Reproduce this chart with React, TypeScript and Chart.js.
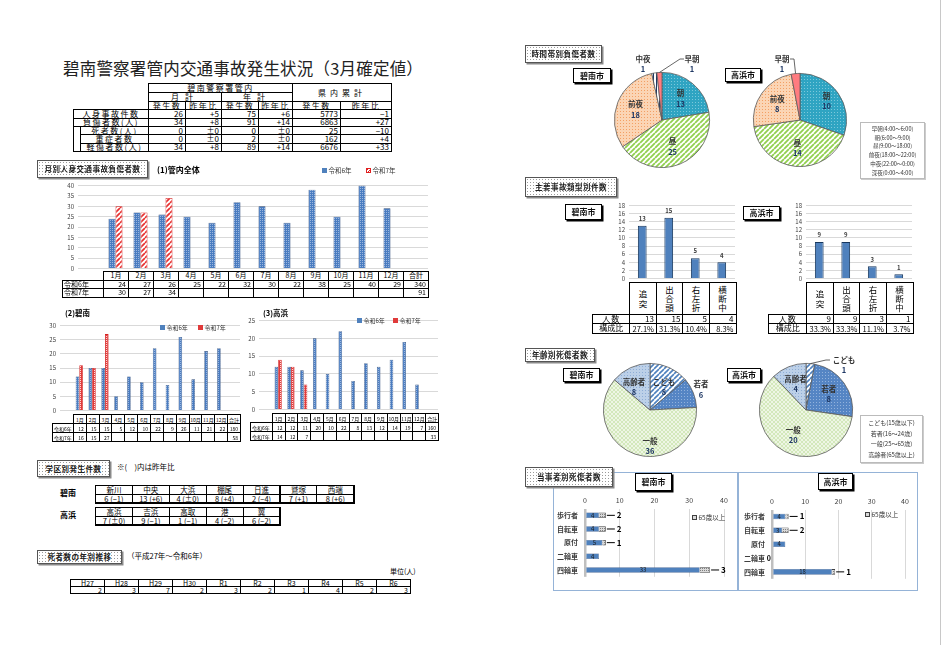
import React, { useEffect, useRef } from "react";
import { Chart, registerables } from "chart.js";

Chart.register(...registerables);

const FONT = "'Noto Sans CJK JP', 'Noto Sans', sans-serif";
Chart.defaults.font.family = FONT;
Chart.defaults.color = "#404040";

// ---------------- data ----------------
const titleText = "碧南警察署管内交通事故発生状況（3月確定値）";

const summaryLabels = ["人身事故件数", "負傷者数(人)", "死者数(人)", "重症者数", "軽傷者数(人)"];
const summaryMonthCount = [26, 34, 0, 0, 34];
const summaryMonthDiff = ["+5", "+8", "±0", "±0", "+8"];
const summaryYearCount = [75, 91, 0, 2, 89];
const summaryYearDiff = ["+6", "+14", "±0", "±0", "+14"];
const summaryPrefCount = [5773, 6863, 25, 162, 6676];
const summaryPrefDiff = ["−1", "+27", "−10", "+4", "+33"];

const monthLabels = ["1月", "2月", "3月", "4月", "5月", "6月", "7月", "8月", "9月", "10月", "11月", "12月"];
const totalLabel = "合計";
const seriesNames = ["令和6年", "令和7年"];

const allR6 = [24, 27, 26, 25, 22, 32, 30, 22, 38, 25, 40, 29];
const allR7 = [30, 27, 34];
const allTotals = [340, 91];

const hekinanR6 = [12, 15, 15, 5, 12, 10, 22, 9, 26, 11, 21, 22];
const hekinanR7 = [16, 15, 27];
const hekinanTotals = [180, 58];

const takahamaR6 = [12, 12, 11, 20, 10, 22, 8, 13, 12, 14, 19, 7];
const takahamaR7 = [14, 12, 7];
const takahamaTotals = [160, 33];

const hekinanDistricts = ["新川", "中央", "大浜", "棚尾", "日進", "鷲塚", "西端"];
const hekinanDistrictCounts = ["6 (−1)", "13 (+6)", "4 (±0)", "8 (+4)", "2 (−4)", "7 (+1)", "8 (+6)"];
const takahamaDistricts = ["高浜", "吉浜", "高取", "港", "翼"];
const takahamaDistrictCounts = ["7 (±0)", "9 (−1)", "1 (−1)", "4 (−2)", "6 (−2)"];

const deathYears = ["H27", "H28", "H29", "H30", "R1", "R2", "R3", "R4", "R5", "R6"];
const deathCounts = [2, 3, 7, 2, 3, 2, 1, 4, 2, 3];

const timeLabels = ["朝", "昼", "前夜", "中夜", "深夜", "早朝"];
const timeHekinan = [13, 25, 18, 1, 0, 1];
const timeTakahama = [10, 14, 8, 0, 0, 1];
const timeLegend = ["早朝(4:00～6:00)", "朝(6:00～9:00)", "昼(9:00～18:00)", "前夜(18:00～22:00)", "中夜(22:00～0:00)", "深夜(0:00～4:00)"];

const typeLabels = ["追突", "出合頭", "右左折", "横断中"];
const typeHekinan = [13, 15, 5, 4];
const typeHekinanShare = ["27.1%", "31.3%", "10.4%", "8.3%"];
const typeTakahama = [9, 9, 3, 1];
const typeTakahamaShare = ["33.3%", "33.3%", "11.1%", "3.7%"];

const ageLabels = ["こども", "若者", "一般", "高齢者"];
const ageHekinan = [8, 6, 36, 8];
const ageTakahama = [1, 8, 20, 4];
const ageLegend = ["こども(15歳以下)", "若者(16～24歳)", "一般(25～65歳)", "高齢者(65歳以上)"];

const partyLabels = ["歩行者", "自転車", "原付", "二輪車", "四輪車"];
const partySeries = ["65歳未満", "65歳以上"];
const partyHekinanUnder = [4, 4, 5, 4, 33];
const partyHekinanOver = [2, 2, 1, 0, 3];
const partyTakahamaUnder = [4, 3, 4, 0, 18];
const partyTakahamaOver = [1, 2, 0, 0, 1];

// ---------------- patterns ----------------
function patternOf(size: number, bg: string, draw: (g: any, s: number) => void) {
  const c = document.createElement("canvas");
  c.width = size;
  c.height = size;
  const g: any = c.getContext("2d");
  g.fillStyle = bg;
  g.fillRect(0, 0, size, size);
  draw(g, size);
  return g.createPattern(c, "repeat");
}
const dotsP = (bg: string, fg: string, size = 3) =>
  patternOf(size, bg, (g) => {
    g.fillStyle = fg;
    g.fillRect(0, 0, 1, 1);
  });
const diagP = (bg: string, fg: string, size = 5, lw = 1.4) =>
  patternOf(size, bg, (g, s) => {
    g.strokeStyle = fg;
    g.lineWidth = lw;
    g.beginPath();
    for (const o of [-s, 0, s]) {
      g.moveTo(o, s);
      g.lineTo(o + s, 0);
    }
    g.stroke();
  });
const vertP = (bg: string, fg: string, size = 3) =>
  patternOf(size, bg, (g, s) => {
    g.fillStyle = fg;
    g.fillRect(0, 0, 1, s);
  });
const checkP = (bg: string, fg: string, size = 4) =>
  patternOf(size, bg, (g, s) => {
    g.fillStyle = fg;
    g.fillRect(0, 0, s / 2, s / 2);
    g.fillRect(s / 2, s / 2, s / 2, s / 2);
  });

// ---------------- chart helpers ----------------
function baseOpts(padding: any, scales: any, pluginOpts: any = {}, extra: any = {}) {
  return {
    animation: false,
    responsive: false,
    events: [],
    layout: { padding },
    plugins: { legend: { display: false }, tooltip: { enabled: false }, ...pluginOpts },
    scales,
    ...extra,
  };
}
function yScale(max: number, step: number, w: number) {
  return {
    min: 0,
    max,
    ticks: { stepSize: step, autoSkip: false, font: { size: 6 }, padding: 4, color: "#404040" },
    grid: { color: "#d9d9d9", drawTicks: false },
    border: { display: false },
    afterFit: (s: any) => {
      s.width = w;
    },
  };
}

function monthConfig(r6: number[], r7: number[], max: number, yW: number, pad: any, cp: number, big: boolean) {
  return {
    type: "bar",
    data: {
      labels: ["", ...monthLabels, totalLabel],
      datasets: [
        {
          label: seriesNames[0],
          data: [null, ...r6, null],
          backgroundColor: dotsP("#4a7cc0", "#9ab6df", 2),
          borderColor: "#2c4a78",
          borderWidth: 0.6,
          categoryPercentage: cp,
          barPercentage: 1,
        },
        {
          label: seriesNames[1],
          data: [null, ...r7],
          backgroundColor: big ? diagP("#ffffff", "#e83030", 5, 1.7) : dotsP("#e03a3a", "#ffd6d6", 2),
          borderColor: "#d42020",
          borderWidth: 0.8,
          categoryPercentage: cp,
          barPercentage: 1,
        },
      ],
    },
    options: baseOpts(pad, { x: { display: false }, y: yScale(max, 5, yW) }),
  };
}

const barTopPlugin = {
  id: "barTop",
  afterDatasetsDraw(chart: any) {
    const ctx = chart.ctx;
    const meta = chart.getDatasetMeta(0);
    const d = chart.data.datasets[0].data;
    ctx.save();
    ctx.font = `bold 6px ${FONT}`;
    ctx.fillStyle = "#404040";
    ctx.textAlign = "center";
    ctx.textBaseline = "bottom";
    meta.data.forEach((el: any, i: number) => {
      const p = el.getProps(["x", "y"], true);
      ctx.fillText(String(d[i]), p.x, p.y - 4);
    });
    ctx.restore();
  },
};

function typeConfig(values: number[]) {
  return {
    type: "bar",
    data: {
      labels: typeLabels,
      datasets: [
        {
          data: values,
          backgroundColor: "#4f81bd",
          borderColor: "#17375e",
          borderWidth: 1,
          barPercentage: 0.33,
          categoryPercentage: 1,
        },
      ],
    },
    options: baseOpts({ top: 6, right: 4, bottom: 4, left: 0 }, { x: { display: false }, y: yScale(18, 2, 29) }),
    plugins: [barTopPlugin],
  };
}

const pieLabelPlugin = {
  id: "pieLabels",
  afterDatasetsDraw(chart: any, _a: any, opts: any) {
    const ctx = chart.ctx;
    const meta = chart.getDatasetMeta(0);
    const data = chart.data.datasets[0].data;
    const labels = chart.data.labels;
    meta.data.forEach((el: any, i: number) => {
      const v = data[i];
      if (!v) return;
      const p = el.getProps(["x", "y", "startAngle", "endAngle", "outerRadius"], true);
      const a = (p.startAngle + p.endAngle) / 2;
      let px: number, py: number;
      const place = opts.place && opts.place[i];
      if (place) {
        px = p.x + place[0];
        py = p.y + place[1];
      } else {
        const f = (opts.radial && opts.radial[i]) || 0.6;
        px = p.x + Math.cos(a) * p.outerRadius * f;
        py = p.y + Math.sin(a) * p.outerRadius * f;
      }
      const lead = opts.leader && opts.leader[i];
      ctx.save();
      if (lead) {
        ctx.strokeStyle = "#404040";
        ctx.lineWidth = 0.8;
        ctx.beginPath();
        ctx.moveTo(p.x + Math.cos(a) * p.outerRadius, p.y + Math.sin(a) * p.outerRadius);
        ctx.lineTo(p.x + lead[0], p.y + lead[1]);
        ctx.lineTo(p.x + lead[0] + (lead[0] > 0 ? 4 : -4), p.y + lead[1]);
        ctx.stroke();
      }
      ctx.textAlign = "center";
      ctx.textBaseline = "middle";
      ctx.font = `bold 7.5px ${FONT}`;
      ctx.fillStyle = "#333333";
      ctx.fillText(String(labels[i]), px, py - 5);
      ctx.fillStyle = "#1f3864";
      ctx.fillText(String(v), px, py + 5.5);
      ctx.restore();
    });
  },
};

function pieConfig(labels: string[], values: number[], colors: any[], labelOpts: any) {
  return {
    type: "pie",
    data: {
      labels,
      datasets: [{ data: values, backgroundColor: colors, borderColor: "#5a5a5a", borderWidth: 0.8 }],
    },
    options: baseOpts(24, {}, { pieLabels: labelOpts }),
    plugins: [pieLabelPlugin],
  };
}
const timeColors = () => [
  dotsP("#2fa4c2", "#7cc8db", 3),
  diagP("#ffffff", "#92d050", 5, 1.8),
  dotsP("#fbd5b5", "#f3a064", 3),
  vertP("#ffffff", "#1f3864", 3),
  "#a6a6a6",
  "#ff7c80",
];
const ageColors = () => [
  diagP("#ffffff", "#4f81bd", 5, 1.6),
  dotsP("#5585c4", "#92b2dc", 3),
  checkP("#eef6e4", "#d3e8bb", 4),
  dotsP("#bcd0e8", "#8eadd6", 3),
];

const partyLabelPlugin = {
  id: "partyLabels",
  afterDatasetsDraw(chart: any) {
    const ctx = chart.ctx;
    const m0 = chart.getDatasetMeta(0);
    const m1 = chart.getDatasetMeta(1);
    const d0 = chart.data.datasets[0].data;
    const d1 = chart.data.datasets[1].data;
    ctx.save();
    ctx.textBaseline = "middle";
    m0.data.forEach((el: any, i: number) => {
      const p = el.getProps(["x", "y", "base"], true);
      if (d0[i] > 0) {
        ctx.font = `6px ${FONT}`;
        ctx.fillStyle = "#1a1a1a";
        ctx.textAlign = "center";
        ctx.fillText(String(d0[i]), (p.x + p.base) / 2, p.y);
      } else if (!d1[i]) {
        ctx.font = `bold 7px ${FONT}`;
        ctx.fillStyle = "#000";
        ctx.textAlign = "right";
        ctx.fillText("0", p.base - 1, p.y);
      }
    });
    m1.data.forEach((el: any, i: number) => {
      if (!(d1[i] > 0)) return;
      const p = el.getProps(["x", "y"], true);
      ctx.strokeStyle = "#000";
      ctx.lineWidth = 1;
      ctx.beginPath();
      ctx.moveTo(p.x + 1, p.y);
      ctx.lineTo(p.x + 9, p.y);
      ctx.stroke();
      ctx.font = `bold 8px ${FONT}`;
      ctx.fillStyle = "#000";
      ctx.textAlign = "left";
      ctx.fillText(String(d1[i]), p.x + 11, p.y);
    });
    ctx.restore();
  },
};

function partyConfig(under: number[], over: number[], padBottom: number) {
  return {
    type: "bar",
    data: {
      labels: partyLabels,
      datasets: [
        { label: partySeries[0], data: under, backgroundColor: "#4f81bd", borderColor: "#2c4a78", borderWidth: 0.5, barPercentage: 0.4, categoryPercentage: 1 },
        { label: partySeries[1], data: over, backgroundColor: dotsP("#d9d9d9", "#808080", 2), borderColor: "#404040", borderWidth: 0.8, barPercentage: 0.4, categoryPercentage: 1 },
      ],
    },
    options: baseOpts(
      { top: 0, right: 9, bottom: padBottom, left: 0 },
      {
        x: {
          position: "top",
          stacked: true,
          min: 0,
          max: 40,
          ticks: { stepSize: 10, font: { size: 7 }, padding: 4, color: "#404040" },
          grid: {
            color: (c: any) => (c.tick && c.tick.value === 0 ? "#bfbfbf" : "#d9d9d9"),
            lineWidth: (c: any) => (c.tick && c.tick.value === 0 ? 2.5 : 1),
            drawTicks: false,
          },
          border: { display: false },
          afterFit: (s: any) => {
            s.height = 18.5;
          },
        },
        y: {
          stacked: true,
          ticks: { font: { size: 7, weight: "bold" }, padding: 7, color: "#404040", autoSkip: false },
          grid: { display: false, drawTicks: false },
          border: { display: false },
          afterFit: (s: any) => {
            s.width = 37;
          },
        },
      },
      {},
      { indexAxis: "y" }
    ),
    plugins: [partyLabelPlugin],
  };
}

// ---------------- components ----------------
function ChartCanvas({ x, y, w, h, make }: any) {
  const ref = useRef<HTMLCanvasElement>(null);
  useEffect(() => {
    const chart = new Chart(ref.current as any, make());
    return () => chart.destroy();
  }, []);
  return <canvas ref={ref} width={w} height={h} style={{ position: "absolute", left: x, top: y, width: w, height: h }} />;
}

function Cell({ x, y, w, h, children = null, align = "center", fs = 8, bw = 1, ls = 0, bold = false, style = {} }: any) {
  return (
    <div
      style={{
        position: "absolute",
        left: x,
        top: y,
        width: w + bw,
        height: h + bw,
        boxSizing: "border-box",
        border: `${bw}px solid #000`,
        display: "flex",
        alignItems: "center",
        justifyContent: align === "right" ? "flex-end" : align === "left" ? "flex-start" : "center",
        paddingRight: align === "right" ? 2 : 0,
        paddingLeft: align === "left" ? 1 : 0,
        fontSize: fs,
        lineHeight: 1,
        letterSpacing: ls,
        fontWeight: bold ? "bold" : "normal",
        whiteSpace: "nowrap",
        overflow: "hidden",
        background: "#fff",
        ...style,
      }}
    >
      {children}
    </div>
  );
}

function Txt({ x, y, children, fs = 8, bold = false, color = "#000", align = "left", w = 0, ls = 0 }: any) {
  return (
    <div
      style={{
        position: "absolute",
        left: x,
        top: y - fs * 0.7,
        width: w || undefined,
        fontSize: fs,
        lineHeight: `${fs * 1.4}px`,
        fontWeight: bold ? "bold" : "normal",
        color,
        textAlign: align,
        whiteSpace: "nowrap",
        letterSpacing: ls,
      }}
    >
      {children}
    </div>
  );
}

function SectionBox({ x, y, w, h, text }: any) {
  return (
    <div
      style={{
        position: "absolute",
        left: x,
        top: y,
        width: w,
        height: h,
        boxSizing: "border-box",
        border: "1px solid #555",
        boxShadow: "1.5px 1.5px 0 #8a8a8a",
        backgroundColor: "#fff",
        backgroundImage: "radial-gradient(#9a9a9a 0.55px, transparent 0.8px)",
        backgroundSize: "3px 3px",
        fontSize: 7.5,
        lineHeight: `${h - 2}px`,
        textAlign: "center",
        fontWeight: "bold",
        color: "#222",
        whiteSpace: "nowrap",
        letterSpacing: 0.5,
      }}
    >
      {text}
    </div>
  );
}

function CityBox({ x, y, w, h, text }: any) {
  return (
    <div
      style={{
        position: "absolute",
        left: x,
        top: y,
        width: w,
        height: h,
        boxSizing: "border-box",
        border: "1px solid #000",
        boxShadow: "1.5px 1.5px 0 #000",
        background: "#fff",
        fontSize: 8,
        lineHeight: `${h - 2}px`,
        textAlign: "center",
        fontWeight: "bold",
        color: "#111",
        whiteSpace: "nowrap",
      }}
    >
      {text}
    </div>
  );
}

function LegendItem({ x, y, swatch, text, fs = 6.5, border = "none" }: any) {
  return (
    <div style={{ position: "absolute", left: x, top: y - 4, height: 8, display: "flex", alignItems: "center", fontSize: fs, whiteSpace: "nowrap", color: "#333" }}>
      <span style={{ display: "inline-block", width: 5, height: 5, background: swatch, border, boxSizing: "border-box", marginRight: 1.5 }} />
      {text}
    </div>
  );
}

function MonthTable({ labelX, colX, colW, top, rowH, fs, rows }: any) {
  const cells: any[] = [];
  [...monthLabels, totalLabel].forEach((h, i) =>
    cells.push(
      <Cell key={"h" + i} x={colX + i * colW} y={top} w={colW} h={rowH} fs={fs}>
        {h}
      </Cell>
    )
  );
  rows.forEach((r: any, ri: number) => {
    const y = top + rowH * (ri + 1);
    cells.push(
      <Cell key={"l" + ri} x={labelX} y={y} w={colX - labelX} h={rowH} fs={fs} align="left">
        {r.label}
      </Cell>
    );
    r.values.forEach((v: any, i: number) =>
      cells.push(
        <Cell key={ri + "-" + i} x={colX + i * colW} y={y} w={colW} h={rowH} fs={fs} align="right">
          {v}
        </Cell>
      )
    );
  });
  return <>{cells}</>;
}

function monthRows(r6: number[], r7: number[], totals: number[]) {
  const blanks = monthLabels.slice(r7.length).map(() => "");
  return [
    { label: seriesNames[0], values: [...r6, totals[0]] },
    { label: seriesNames[1], values: [...r7, ...blanks, totals[1]] },
  ];
}

function SummaryTable() {
  const sx = [73, 80, 148, 185, 221, 258, 292, 340, 391];
  const sy = [83, 92, 101, 109, 117.5, 126, 134, 142.5, 151];
  const cells: any[] = [];
  const c = (key: string, x0: number, x1: number, y0: number, y1: number, t: any, align = "center", ls = 0) =>
    cells.push(
      <Cell key={key} x={x0} y={y0} w={x1 - x0} h={y1 - y0} fs={8} align={align} ls={ls}>
        {t}
      </Cell>
    );
  c("h0", sx[2], sx[6], sy[0], sy[1], "碧南警察署管内", "center", 1.5);
  c("h1", sx[6], sx[8], sy[0], sy[2], "県内累計", "center", 4);
  c("h2", sx[2], sx[4], sy[1], sy[2], "月計", "center", 6);
  c("h3", sx[4], sx[6], sy[1], sy[2], "年計", "center", 6);
  ["発生数", "昨年比", "発生数", "昨年比", "発生数", "昨年比"].forEach((t, i) => c("hh" + i, sx[2 + i], sx[3 + i], sy[2], sy[3], t, "center", 1.5));
  c("blank", sx[0], sx[1], sy[5], sy[8], "");
  summaryLabels.forEach((lab, r) => {
    const y0 = sy[3 + r];
    const y1 = sy[4 + r];
    c("l" + r, r < 2 ? sx[0] : sx[1], sx[2], y0, y1, lab, "center", 1.5);
    const vals = [summaryMonthCount[r], summaryMonthDiff[r], summaryYearCount[r], summaryYearDiff[r], summaryPrefCount[r], summaryPrefDiff[r]];
    vals.forEach((v, i) => c("v" + r + "-" + i, sx[2 + i], sx[3 + i], y0, y1, v, "right"));
  });
  return <>{cells}</>;
}

function TypeTable({ colX, labelX, values, shares }: any) {
  const w = 26.5;
  const cells: any[] = [];
  typeLabels.forEach((t, i) => {
    cells.push(
      <Cell key={"c" + i} x={colX + i * w} y={282} w={w} h={32} fs={8.5} bw={1.5} style={{ lineHeight: 1.1, whiteSpace: "normal", textAlign: "center" }}>
        <span>
          {t.split("").map((ch, k) => (
            <span key={k} style={{ display: "block" }}>
              {ch}
            </span>
          ))}
        </span>
      </Cell>
    );
  });
  cells.push(
    <Cell key="lp" x={labelX} y={314} w={colX - labelX} h={9} fs={8} bw={1.5} ls={1}>
      人数
    </Cell>
  );
  cells.push(
    <Cell key="ls" x={labelX} y={323} w={colX - labelX} h={9} fs={8} bw={1.5}>
      構成比
    </Cell>
  );
  values.forEach((v: number, i: number) =>
    cells.push(
      <Cell key={"v" + i} x={colX + i * w} y={314} w={w} h={9} fs={8} bw={1.5} align="right">
        {v}
      </Cell>
    )
  );
  shares.forEach((v: string, i: number) =>
    cells.push(
      <Cell key={"s" + i} x={colX + i * w} y={323} w={w} h={9} fs={7.5} bw={1.5} align="right">
        {v}
      </Cell>
    )
  );
  return <>{cells}</>;
}

function DistrictTable({ x, y, names, values }: any) {
  const w = 36.9;
  const cells: any[] = [];
  names.forEach((n: string, i: number) =>
    cells.push(
      <Cell key={"n" + i} x={x + i * w} y={y} w={w} h={8.5} fs={7.5}>
        {n}
      </Cell>
    )
  );
  values.forEach((v: string, i: number) =>
    cells.push(
      <Cell key={"v" + i} x={x + i * w} y={y + 8.5} w={w} h={8.5} fs={7.5}>
        {v}
      </Cell>
    )
  );
  cells.push(
    <div key="frame" style={{ position: "absolute", left: x - 0.5, top: y - 0.5, width: names.length * w + 2, height: 19, border: "1.5px solid #000", boxSizing: "border-box" }} />
  );
  return <>{cells}</>;
}

export default function App() {
  return (
    <div style={{ position: "absolute", left: 0, top: 0, width: 945, height: 645, overflow: "hidden", background: "#fff", fontFamily: FONT, color: "#000" }}>
      {/* page edge */}
      <div style={{ position: "absolute", left: 940, top: 0, width: 1, height: 645, background: "#c8c8c8" }} />

      {/* ---------- charts ---------- */}
      <ChartCanvas x={40} y={178} w={392} h={98} make={() => monthConfig(allR6, allR7, 40, 38, { top: 6, right: 4, bottom: 5, left: 0 }, 0.56, true)} />
      <ChartCanvas x={30} y={318} w={214} h={100} make={() => monthConfig(hekinanR6, hekinanR7, 30, 30, { top: 6, right: 4, bottom: 4, left: 0 }, 0.56, false)} />
      <ChartCanvas x={230} y={313} w={212} h={104} make={() => monthConfig(takahamaR6, takahamaR7, 25, 29, { top: 6, right: 4, bottom: 4, left: 0 }, 0.56, false)} />

      <ChartCanvas x={590} y={48} w={144} h={144} make={() => pieConfig(timeLabels, timeHekinan, timeColors(), { place: { 3: [-19, -56], 5: [30, -56] }, leader: { 5: [18, -61] } })} />
      <ChartCanvas x={729} y={49} w={142} h={142} make={() => pieConfig(timeLabels, timeTakahama, timeColors(), { radial: { 0: 0.7 }, place: { 5: [-18, -56] }, leader: { 5: [-6, -61] } })} />

      <ChartCanvas x={600} y={198} w={139} h={88} make={() => typeConfig(typeHekinan)} />
      <ChartCanvas x={777} y={198} w={139} h={88} make={() => typeConfig(typeTakahama)} />

      <ChartCanvas x={579} y={339} w={142} h={142} make={() => pieConfig(ageLabels, ageHekinan, ageColors(), { radial: { 1: 1.18 }, place: { 0: [14, -23], 2: [0, 36], 3: [-16, -23] } })} />
      <ChartCanvas x={735} y={339} w={142} h={142} make={() => pieConfig(ageLabels, ageTakahama, ageColors(), { place: { 0: [38, -45] }, leader: { 0: [20, -50] } })} />

      {/* party panels */}
      <div style={{ position: "absolute", left: 553, top: 472, width: 185, height: 119, border: "1px solid #95b3d7", boxSizing: "border-box" }} />
      <div style={{ position: "absolute", left: 738, top: 472, width: 180, height: 119, border: "1px solid #95b3d7", boxSizing: "border-box" }} />
      <ChartCanvas x={548} y={490} w={185} h={98} make={() => partyConfig(partyHekinanUnder, partyHekinanOver, 3.25)} />
      <ChartCanvas x={735} y={491} w={179} h={99} make={() => partyConfig(partyTakahamaUnder, partyTakahamaOver, 3)} />

      {/* ---------- left side ---------- */}
      <div style={{ position: "absolute", left: 63, top: 57, fontSize: 16.5, lineHeight: "22px", letterSpacing: 0.2, color: "#222", whiteSpace: "nowrap" }}>{titleText}</div>
      <SummaryTable />

      <SectionBox x={37} y={160} w={111} h={18} text="月別人身交通事故負傷者数" />
      <Txt x={157} y={170} fs={8} bold>
        (1)管内全体
      </Txt>
      <LegendItem x={322} y={170} swatch="#4f81bd" text={seriesNames[0]} />
      <LegendItem x={366} y={170} swatch="repeating-linear-gradient(135deg, #e02020 0 1px, #fff 1px 2.2px)" border="0.5px solid #e02020" text={seriesNames[1]} />
      <MonthTable labelX={62} colX={103} colW={25} top={271} rowH={8.5} fs={7} rows={monthRows(allR6, allR7, allTotals)} />

      <Txt x={65} y={313} fs={7.5} bold>
        (2)碧南
      </Txt>
      <LegendItem x={160} y={327} swatch="#4f81bd" text={seriesNames[0]} fs={6} />
      <LegendItem x={198} y={327} swatch="#e03a3a" text={seriesNames[1]} fs={6} />
      <MonthTable labelX={52} colX={72.86} colW={12.86} top={414} rowH={9} fs={5} rows={monthRows(hekinanR6, hekinanR7, hekinanTotals)} />

      <Txt x={263} y={313} fs={7.5} bold>
        (3)高浜
      </Txt>
      <LegendItem x={357} y={320} swatch="#4f81bd" text={seriesNames[0]} fs={6} />
      <LegendItem x={393} y={320} swatch="#e03a3a" text={seriesNames[1]} fs={6} />
      <MonthTable labelX={250} colX={271.8} colW={12.79} top={413} rowH={9} fs={5} rows={monthRows(takahamaR6, takahamaR7, takahamaTotals)} />

      <SectionBox x={37} y={460} w={73} h={17} text="学区別発生件数" />
      <Txt x={117} y={467} fs={7.5}>
        ※(　)内は昨年比
      </Txt>
      <Txt x={60} y={493} fs={8} bold>
        碧南
      </Txt>
      <DistrictTable x={95} y={485} names={hekinanDistricts} values={hekinanDistrictCounts} />
      <Txt x={60} y={515} fs={8} bold>
        高浜
      </Txt>
      <DistrictTable x={95} y={507} names={takahamaDistricts} values={takahamaDistrictCounts} />

      <SectionBox x={37} y={550} w={85} h={14} text="死者数の年別推移" />
      <Txt x={127} y={556} fs={7.5}>
        （平成27年～令和6年）
      </Txt>
      <Txt x={390} y={572} fs={7}>
        単位(人)
      </Txt>
      {deathYears.map((yname, i) => (
        <Cell key={"dy" + i} x={70 + i * 34} y={579} w={34} h={7} fs={7}>
          {yname}
        </Cell>
      ))}
      {deathCounts.map((v, i) => (
        <Cell key={"dv" + i} x={70 + i * 34} y={586} w={34} h={7} fs={7} align="right">
          {v}
        </Cell>
      ))}

      {/* ---------- right side ---------- */}
      <SectionBox x={525} y={45} w={77} h={18} text="時間帯別負傷者数" />
      <CityBox x={573} y={68} w={38} h={15} text="碧南市" />
      <CityBox x={725} y={68} w={36} h={14} text="高浜市" />
      <div style={{ position: "absolute", left: 860, top: 122, width: 65, height: 57, border: "1px solid #bbb", boxShadow: "1px 1px 0 #ccc", boxSizing: "border-box", background: "#fff", fontSize: 5.5, lineHeight: "8.7px", textAlign: "center", paddingTop: 2, color: "#333", whiteSpace: "nowrap" }}>
        {timeLegend.map((t, i) => (
          <div key={i}>{t}</div>
        ))}
      </div>

      <SectionBox x={525} y={177} w={92} h={20} text="主要事故類型別件数" />
      <CityBox x={565} y={204} w={37} h={16} text="碧南市" />
      <CityBox x={743} y={206} w={37} h={14} text="高浜市" />
      <TypeTable colX={629} labelX={592} values={typeHekinan} shares={typeHekinanShare} />
      <TypeTable colX={806} labelX={768} values={typeTakahama} shares={typeTakahamaShare} />

      <SectionBox x={525} y={348} w={70} h={14} text="年齢別死傷者数" />
      <CityBox x={563} y={368} w={37} h={14} text="碧南市" />
      <CityBox x={727} y={368} w={34} h={14} text="高浜市" />
      <div style={{ position: "absolute", left: 860, top: 415, width: 63, height: 48, border: "1px solid #bbb", boxShadow: "1px 1px 0 #ccc", boxSizing: "border-box", background: "#fff", fontSize: 6, lineHeight: "10.5px", textAlign: "center", paddingTop: 2, color: "#333", whiteSpace: "nowrap" }}>
        {ageLegend.map((t, i) => (
          <div key={i}>{t}</div>
        ))}
      </div>

      <SectionBox x={525} y={467} w={88} h={20} text="当事者別死傷者数" />
      <CityBox x={635} y={473} w={37} h={18} text="碧南市" />
      <CityBox x={818} y={473} w={35} h={17} text="高浜市" />
      <LegendItem x={692} y={517} swatch="#d9d9d9" border="0.5px solid #404040" text={partySeries[1]} fs={6.5} />
      <LegendItem x={865} y={514} swatch="#d9d9d9" border="0.5px solid #404040" text={partySeries[1]} fs={6.5} />
    </div>
  );
}
